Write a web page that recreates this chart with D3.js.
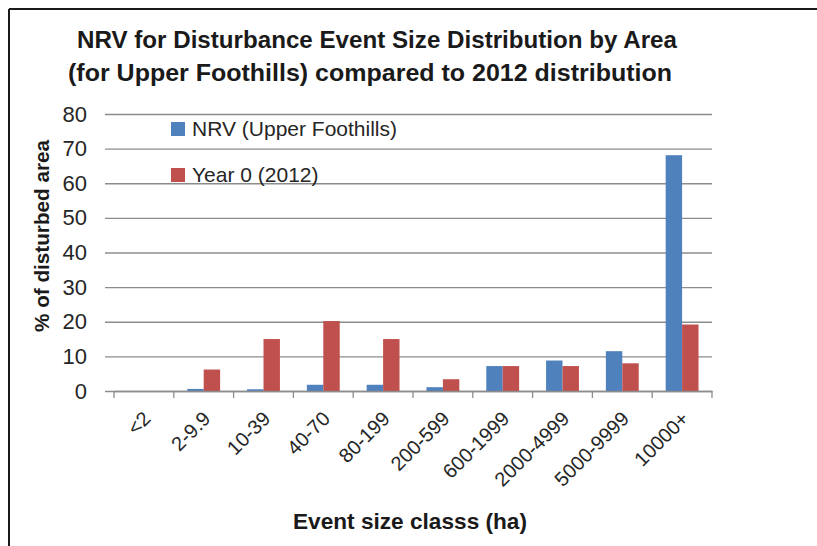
<!DOCTYPE html>
<html>
<head>
<meta charset="utf-8">
<script src="https://cdn.jsdelivr.net/npm/d3@7"></script>
<style>
  body { margin: 0; background: #fff; }
  svg { display: block; font-family: "Liberation Sans", Arial, sans-serif; }
</style>
</head>
<body>
<svg width="817" height="546"></svg>
<script>
// chart values
var categories = ["<2", "2-9.9", "10-39", "40-70", "80-199", "200-599", "600-1999", "2000-4999", "5000-9999", "10000+"];
var seriesNames = ["NRV (Upper Foothills)", "Year 0 (2012)"];
var nrv = [0, 0.6, 0.5, 1.8, 1.8, 1.1, 7.2, 8.8, 11.5, 68.1];
var year0 = [0, 6.2, 15, 20.2, 15, 3.4, 7.2, 7.2, 8, 19.2];
var yTicks = [0, 10, 20, 30, 40, 50, 60, 70, 80];
var colors = ["#4F81BD", "#C0504D"];

var svg = d3.select("svg");

// frame (only top and left border show in the picture)
svg.append("line").attr("x1", 9).attr("y1", 9).attr("x2", 817).attr("y2", 9)
	.attr("stroke", "#1a1a1a").attr("stroke-width", 2);
svg.append("line").attr("x1", 9).attr("y1", 9).attr("x2", 9).attr("y2", 546)
	.attr("stroke", "#1a1a1a").attr("stroke-width", 2);

var pLeft = 114, pRight = 712, pTop = 114, pBottom = 391;

var x = d3.scaleBand().domain(categories).range([pLeft, pRight]).paddingInner(0).paddingOuter(0);
var x1 = d3.scaleBand().domain(seriesNames).range([0, x.bandwidth()]).paddingInner(0).paddingOuter(0.82);
var y = d3.scaleLinear().domain([0, 80]).range([pBottom, pTop]);

// gridlines + y ticks
var yAxis = d3.axisLeft(y).tickValues(yTicks).tickSize(-(pRight - pLeft)).tickPadding(27).tickSizeOuter(0);
var gy = svg.append("g").attr("transform", "translate(" + pLeft + ",0)").call(yAxis);
gy.select(".domain").remove();
gy.selectAll(".tick line").attr("x1", -9).attr("stroke", "#8c8c8c").attr("stroke-width", 1.3);
gy.selectAll(".tick text").attr("font-size", 22).attr("font-family", "Liberation Sans").attr("fill", "#262626");

// bars
var rows = categories.map(function(c, i){ return {cat: c, vals: [nrv[i], year0[i]]}; });
var groups = svg.selectAll("g.grp").data(rows).enter().append("g")
	.attr("class", "grp")
	.attr("transform", function(d){ return "translate(" + x(d.cat) + ",0)"; });
groups.selectAll("rect").data(function(d){ return d.vals.map(function(v, j){ return {s: seriesNames[j], v: v, j: j}; }); })
	.enter().append("rect")
	.attr("x", function(d){ return x1(d.s); })
	.attr("width", x1.bandwidth())
	.attr("y", function(d){ return y(d.v); })
	.attr("height", function(d){ return pBottom - y(d.v); })
	.attr("fill", function(d){ return colors[d.j]; });

// x axis
var xAxis = d3.axisBottom(x).tickSize(0).tickFormat("");
var gx = svg.append("g").attr("transform", "translate(0," + pBottom + ")").call(xAxis);
gx.select(".domain").attr("stroke", "#8c8c8c").attr("stroke-width", 1.3);
var xt = [pLeft].concat(categories.map(function(c){ return x(c) + x.bandwidth(); }));
svg.selectAll("line.xt").data(xt).enter().append("line")
	.attr("class", "xt")
	.attr("x1", function(d){ return d; }).attr("x2", function(d){ return d; })
	.attr("y1", pBottom).attr("y2", pBottom + 7)
	.attr("stroke", "#8c8c8c").attr("stroke-width", 1.3);

svg.selectAll("text.xl").data(categories).enter().append("text")
	.attr("class", "xl")
	.attr("transform", function(d){ return "translate(" + (x(d) + x.bandwidth() / 2 + 8) + "," + (pBottom + 29) + ") rotate(-45)"; })
	.attr("text-anchor", "end")
	.attr("font-size", 20)
	.attr("fill", "#262626")
	.text(function(d){ return d; });

// titles
svg.append("text").attr("x", 377).attr("y", 48).attr("text-anchor", "middle")
	.attr("font-size", 23).attr("font-weight", "bold").attr("fill", "#1a1a1a")
	.attr("textLength", 600).attr("lengthAdjust", "spacingAndGlyphs")
	.text("NRV for Disturbance Event Size Distribution by Area");
svg.append("text").attr("x", 370).attr("y", 81).attr("text-anchor", "middle")
	.attr("font-size", 23).attr("font-weight", "bold").attr("fill", "#1a1a1a")
	.attr("textLength", 604).attr("lengthAdjust", "spacingAndGlyphs")
	.text("(for Upper Foothills) compared to 2012 distribution");

svg.append("text").attr("x", 410).attr("y", 529).attr("text-anchor", "middle")
	.attr("font-size", 22).attr("font-weight", "bold").attr("fill", "#1a1a1a")
	.attr("textLength", 234).attr("lengthAdjust", "spacingAndGlyphs")
	.text("Event size classs (ha)");

svg.append("text").attr("transform", "translate(49,236) rotate(-90)").attr("text-anchor", "middle")
	.attr("font-size", 21).attr("font-weight", "bold").attr("fill", "#1a1a1a")
	.attr("textLength", 192).attr("lengthAdjust", "spacingAndGlyphs")
	.text("% of disturbed area");

// legend
var legend = svg.selectAll("g.leg").data(seriesNames).enter().append("g")
	.attr("class", "leg")
	.attr("transform", function(d, i){ return "translate(171," + (122 + i * 46) + ")"; });
legend.append("rect").attr("width", 14).attr("height", 14)
	.attr("fill", function(d, i){ return colors[i]; });
legend.append("text").attr("x", 21).attr("y", 14).attr("font-size", 21).attr("fill", "#262626")
	.text(function(d){ return d; });
</script>
</body>
</html>
